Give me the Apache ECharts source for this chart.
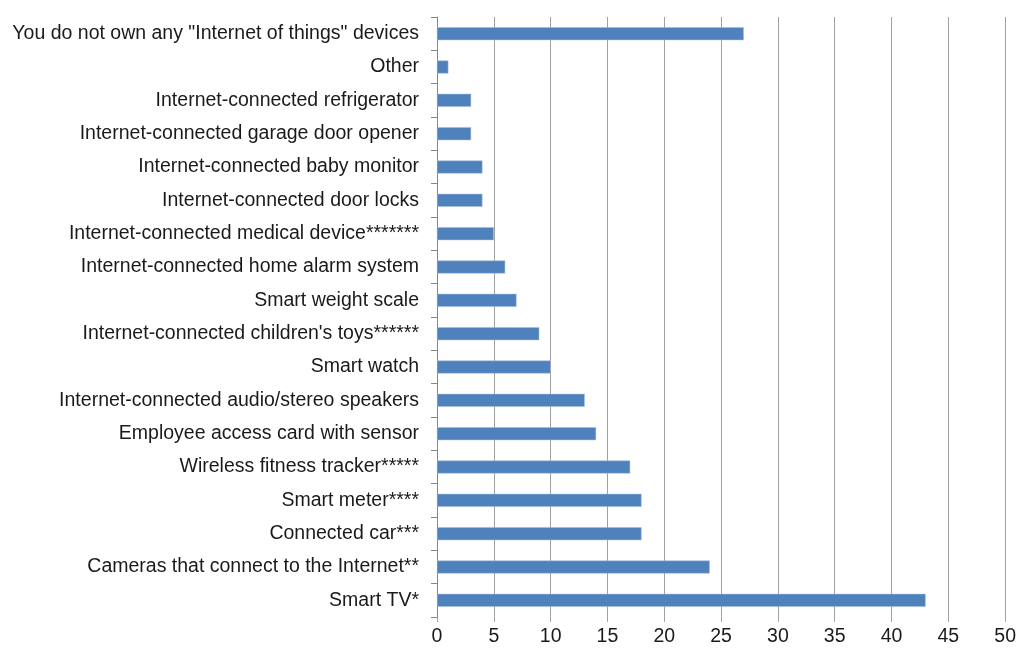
<!DOCTYPE html>
<html>
<head>
<meta charset="utf-8">
<script src="https://cdn.jsdelivr.net/npm/echarts@6/dist/echarts.min.js"></script>
<style>html,body{margin:0;padding:0;background:#fff}#c{width:1019px;height:650px}</style>
</head>
<body>
<div id="c"></div>
<script>
const categories = [
  "Smart TV*",
  "Cameras that connect to the Internet**",
  "Connected car***",
  "Smart meter****",
  "Wireless fitness tracker*****",
  "Employee access card with sensor",
  "Internet-connected audio/stereo speakers",
  "Smart watch",
  "Internet-connected children's toys******",
  "Smart weight scale",
  "Internet-connected home alarm system",
  "Internet-connected medical device*******",
  "Internet-connected door locks",
  "Internet-connected baby monitor",
  "Internet-connected garage door opener",
  "Internet-connected refrigerator",
  "Other",
  "You do not own any \"Internet of things\" devices"
];
const values = [43, 24, 18, 18, 17, 14, 13, 10, 9, 7, 6, 5, 4, 4, 3, 3, 1, 27];
const xMin = 0, xMax = 50, xStep = 5;

const chart = echarts.init(document.getElementById('c'));
chart.setOption({
  animation: false,
  grid: { left: 437, right: 12, top: 17, bottom: 33, containLabel: false },
  xAxis: {
    type: 'value', min: xMin, max: xMax, interval: xStep,
    axisLine: { show: false },
    axisTick: { show: true, length: 5, lineStyle: { color: '#A0A0A0' } },
    splitLine: { show: true, lineStyle: { color: '#A0A0A0', width: 1 } },
    axisLabel: { color: '#1a1a1a', fontSize: 19.5, fontFamily: 'Liberation Sans', margin: 10 }
  },
  yAxis: {
    type: 'category', data: categories,
    axisLine: { show: true, lineStyle: { color: '#868686' } },
    axisTick: { show: true, length: 6, alignWithLabel: false, lineStyle: { color: '#868686' } },
    axisLabel: { color: '#1a1a1a', fontSize: 19.5, fontFamily: 'Liberation Sans', margin: 18 }
  },
  series: [{
    type: 'bar', data: values, barWidth: 13,
    itemStyle: { color: '#4F81BD', borderColor: '#A7BFDE', borderWidth: 0.5 }
  }]
});
</script>
</body>
</html>
